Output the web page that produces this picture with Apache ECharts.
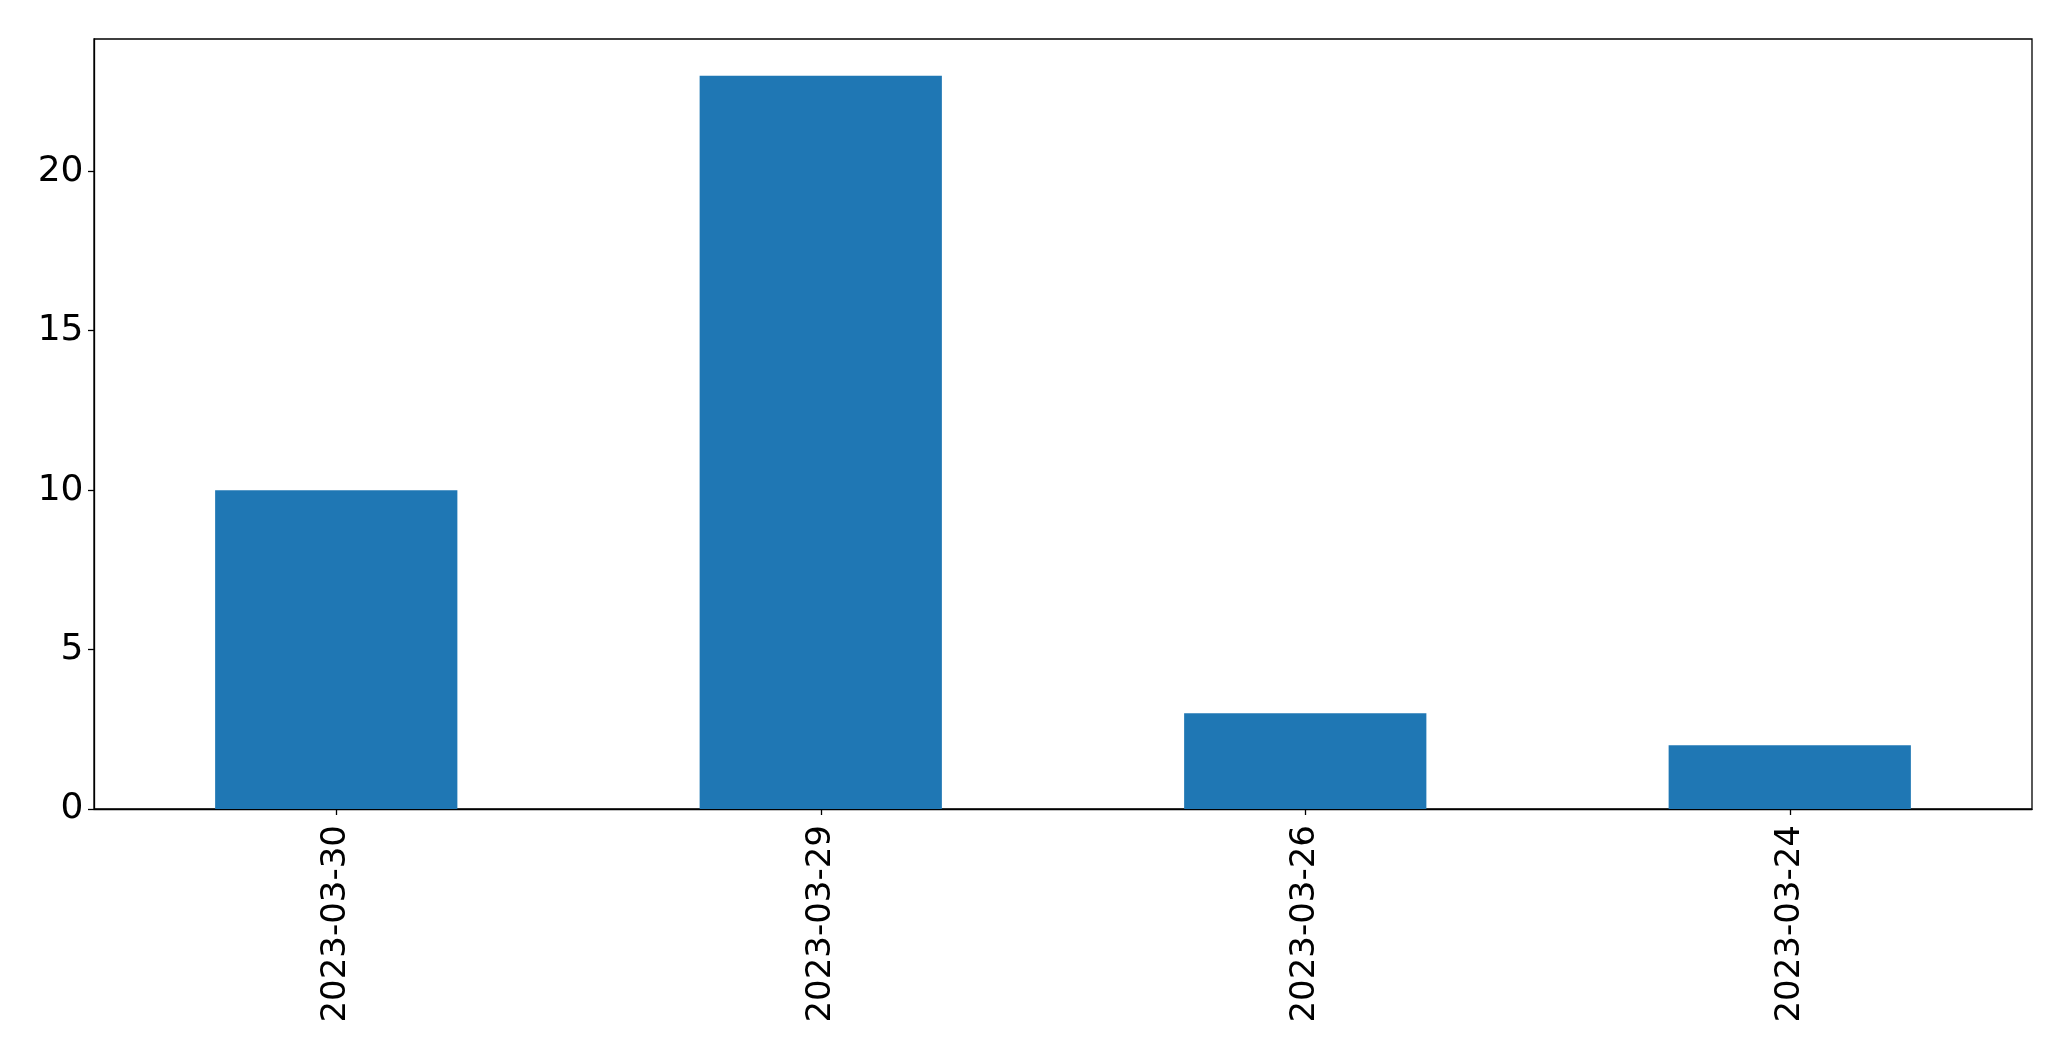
<!DOCTYPE html>
<html>
<head>
<meta charset="utf-8">
<script src="https://cdn.jsdelivr.net/npm/echarts@6/dist/echarts.min.js"></script>
<style>html,body{margin:0;padding:0;background:#fff;}#c{width:2071px;height:1061px;}</style>
</head>
<body>
<div id="c"></div>
<script>
const categories = ['2023-03-30', '2023-03-29', '2023-03-26', '2023-03-24'];
const values = [10, 23, 3, 2];
const yTicks = [0, 5, 10, 15, 20];

const chart = echarts.init(document.getElementById('c'), null, {renderer: 'canvas'});
chart.setOption({
  animation: false,
  backgroundColor: '#ffffff',
  grid: {left: 94, right: 39, top: 39, bottom: 252, show: true, borderColor: '#000', borderWidth: 1.3, backgroundColor: 'transparent'},
  xAxis: {
    type: 'category',
    data: categories,
    axisLine: {show: true, lineStyle: {color: '#000', width: 1.3}},
    axisTick: {show: true, alignWithLabel: true, length: 6, lineStyle: {color: '#000', width: 1.3}},
    axisLabel: {rotate: 90, margin: 16, fontFamily: 'DejaVu Sans', fontSize: 34, color: '#000'},
    splitLine: {show: false}
  },
  yAxis: {
    type: 'value',
    min: 0,
    max: 24.15,
    interval: 5,
    axisLine: {show: true, lineStyle: {color: '#000', width: 1.3}},
    axisTick: {show: true, length: 6, customValues: yTicks, lineStyle: {color: '#000', width: 1.3}},
    axisLabel: {margin: 10.5, padding: [6, 0, 0, 0], fontFamily: 'DejaVu Sans', fontSize: 36, color: '#000', customValues: yTicks},
    splitLine: {show: false}
  },
  series: [{
    type: 'bar',
    data: values,
    barWidth: '50%',
    itemStyle: {color: '#1f77b4'}
  }]
});
</script>
</body>
</html>
